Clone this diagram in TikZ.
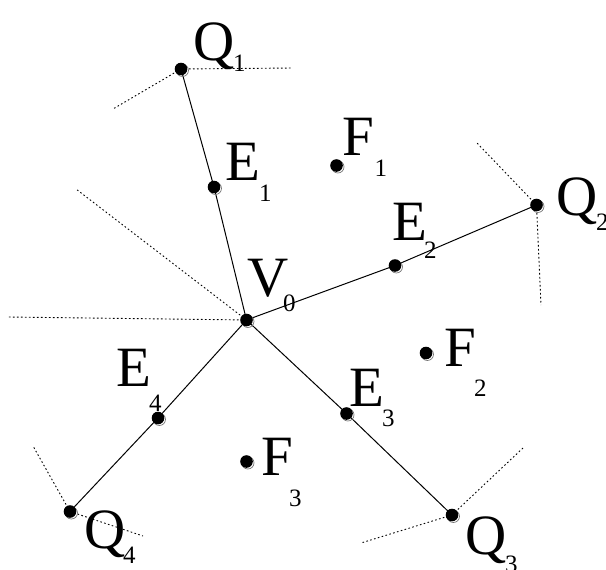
\documentclass[tikz,border=0pt]{standalone}
\usepackage{fontspec}
\setmainfont{Liberation Serif}
\begin{document}
\begin{tikzpicture}[x=1pt,y=-1pt,
  edge/.style={line width=1pt},
  dotline/.style={line width=0.9pt, dash pattern=on 1.6pt off 2.4pt},
  lab/.style={anchor=base west, inner sep=0pt, font=\fontsize{57}{57}\selectfont},
  sublab/.style={anchor=base west, inner sep=0pt, font=\fontsize{25}{25}\selectfont}]
\useasboundingbox (0,0) rectangle (606,570);
% points
\coordinate (V0) at (246.5,320);
\coordinate (Q1) at (181,69);
\coordinate (E1) at (214,187);
\coordinate (E2) at (395,265.5);
\coordinate (Q2) at (536.5,205);
\coordinate (E3) at (346.5,413.5);
\coordinate (Q3) at (452,515);
\coordinate (E4) at (158,418);
\coordinate (Q4) at (70,511.5);
\coordinate (F1) at (336.5,165.5);
\coordinate (F2) at (426,353);
\coordinate (F3) at (246.5,461.5);
% free ends of dotted lines
\coordinate (q1a) at (292,68);
\coordinate (q1b) at (113,109);
\coordinate (q2a) at (477,143);
\coordinate (q2b) at (541,305);
\coordinate (v0a) at (7,317);
\coordinate (v0b) at (76,189);
\coordinate (q3a) at (523,448);
\coordinate (q3b) at (361,543);
\coordinate (q4a) at (33,446);
\coordinate (q4b) at (143,536);
% solid edges
\draw[edge] (Q1) -- (E1) -- (V0) -- (E2) -- (Q2);
\draw[edge] (V0) -- (E3) -- (Q3);
\draw[edge] (V0) -- (E4) -- (Q4);
% dotted lines
\draw[dotline] (Q1) -- (q1a);
\draw[dotline] (Q1) -- (q1b);
\draw[dotline] (Q2) -- (q2a);
\draw[dotline] (Q2) -- (q2b);
\draw[dotline] (V0) -- (v0a);
\draw[dotline] (V0) -- (v0b);
\draw[dotline] (Q3) -- (q3a);
\draw[dotline] (Q3) -- (q3b);
\draw[dotline] (Q4) -- (q4a);
\draw[dotline] (Q4) -- (q4b);
% dots
\foreach \p in {V0,Q1,Q2,Q3,Q4,E1,E2,E3,E4,F1,F2,F3}{
  \draw[black!55, line width=0.7pt] ([shift={(1.4,1.4)}]\p) circle (6.1pt);
  \fill (\p) circle (6.3pt);
}
% labels
\node[lab] (lQ1) at (193.5,60) {Q};
\node[sublab] (sQ1) at (233,71.5) {1};
\node[lab] (lE1) at (225.5,180) {E};
\node[sublab] (sE1) at (259,201.5) {1};
\node[lab] (lV0) at (247,296.5) {V};
\node[sublab] (sV0) at (283,311.5) {0};
\node[lab] (lE2) at (392.5,240) {E};
\node[sublab] (sE2) at (424,258) {2};
\node[lab] (lQ2) at (556,215) {Q};
\node[sublab] (sQ2) at (596,230) {2};
\node[lab] (lF1) at (342,155) {F};
\node[sublab] (sF1) at (374.5,176.5) {1};
\node[lab] (lF2) at (444.5,366.5) {F};
\node[sublab] (sF2) at (474,396) {2};
\node[lab] (lF3) at (261,475) {F};
\node[sublab] (sF3) at (289,506.5) {3};
\node[lab] (lE3) at (349.5,406.5) {E};
\node[sublab] (sE3) at (382,426.5) {3};
\node[lab] (lE4) at (116,386.5) {E};
\node[sublab] (sE4) at (149,411.5) {4};
\node[lab] (lQ4) at (84.5,548) {Q};
\node[sublab] (sQ4) at (123,563) {4};
\node[lab] (lQ3) at (465.5,554) {Q};
\node[sublab] (sQ3) at (505,572) {3};
\end{tikzpicture}
\end{document}
